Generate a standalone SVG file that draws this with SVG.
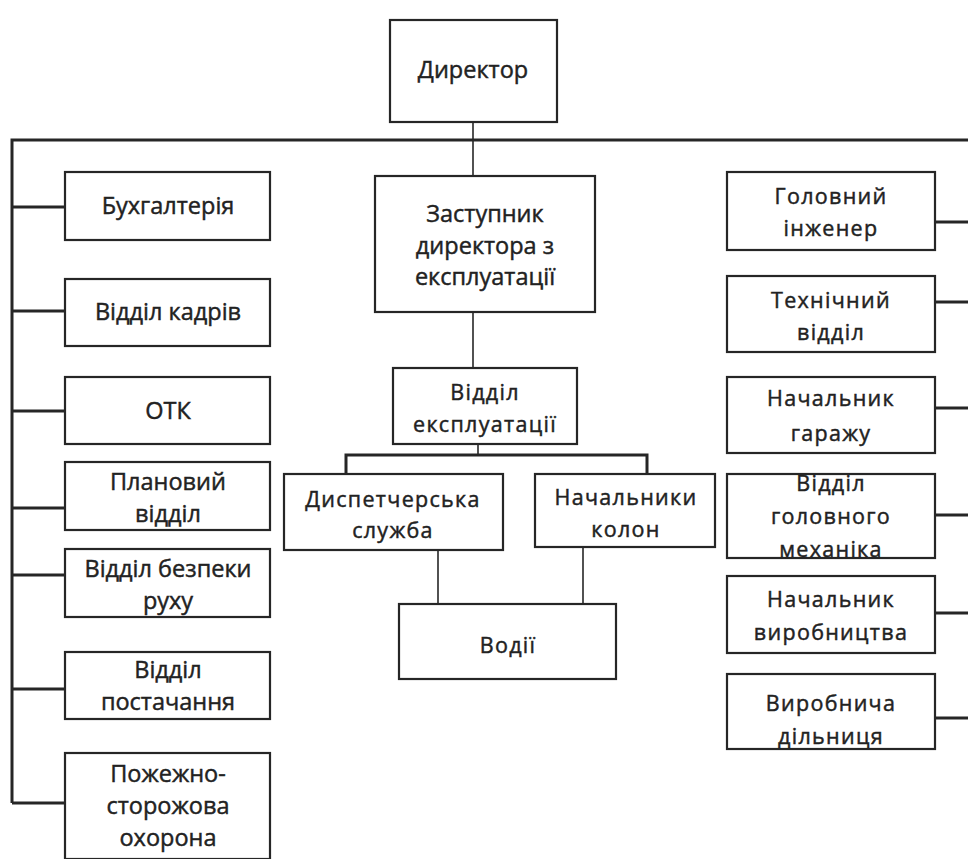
<svg xmlns="http://www.w3.org/2000/svg" width="968" height="859" viewBox="0 0 968 859">
  <style>
    .box { fill: #ffffff; stroke: #262626; stroke-width: 2.2; }
    .lbl { font-family: "Open Sans", "Noto Sans", sans-serif; font-size: 21.5px; fill: #222222; stroke: #222222; stroke-width: 0.45; text-anchor: middle; letter-spacing: 1.3px; }
    .lbln { font-family: "Open Sans", "Noto Sans", sans-serif; font-size: 23.5px; fill: #222222; stroke: #222222; stroke-width: 0.45; text-anchor: middle; }
    .bus { stroke: #262626; stroke-width: 3; fill: none; }
    .thin { stroke: #262626; stroke-width: 1.6; fill: none; }
  </style>
  <rect width="968" height="859" fill="#ffffff"/>

  <g id="connectors">
    <!-- main bus and left trunk -->
    <polyline class="bus" points="968,140 12,140 12,803"/>
    <!-- left branches -->
    <line class="bus" x1="12" y1="207" x2="65" y2="207"/>
    <line class="bus" x1="12" y1="311" x2="65" y2="311"/>
    <line class="bus" x1="12" y1="411" x2="65" y2="411"/>
    <line class="bus" x1="12" y1="508" x2="65" y2="508"/>
    <line class="bus" x1="12" y1="575" x2="65" y2="575"/>
    <line class="bus" x1="12" y1="689" x2="65" y2="689"/>
    <line class="bus" x1="12" y1="803" x2="65" y2="803"/>
    <!-- right branches -->
    <line class="bus" x1="935" y1="222" x2="968" y2="222"/>
    <line class="bus" x1="935" y1="302" x2="968" y2="302"/>
    <line class="bus" x1="935" y1="408" x2="968" y2="408"/>
    <line class="bus" x1="935" y1="515" x2="968" y2="515"/>
    <line class="bus" x1="935" y1="613" x2="968" y2="613"/>
    <line class="bus" x1="935" y1="718" x2="968" y2="718"/>
    <!-- centre chain -->
    <line class="thin" x1="473" y1="122" x2="473" y2="176"/>
    <line class="thin" x1="473" y1="312" x2="473" y2="368"/>
    <line class="thin" x1="478" y1="444" x2="478" y2="455"/>
    <polyline class="bus" points="346,474 346,455 647,455 647,474"/>
    <line class="thin" x1="438" y1="550" x2="438" y2="604"/>
    <line class="thin" x1="583" y1="547" x2="583" y2="604"/>
  </g>

  <g id="director">
    <rect class="box" x="390" y="20" width="167" height="102"/>
    <text class="lbln" x="473" y="78">Директор</text>
  </g>

  <g id="deputy">
    <rect class="box" x="375" y="176" width="220" height="136"/>
    <text class="lbln" x="485" y="222">Заступник</text>
    <text class="lbln" x="485" y="254">директора з</text>
    <text class="lbln" x="485" y="285">експлуатації</text>
  </g>

  <g id="operations">
    <rect class="box" x="393" y="368" width="184" height="76"/>
    <text class="lbl" x="485" y="400">Відділ</text>
    <text class="lbl" x="485" y="432">експлуатації</text>
  </g>

  <g id="dispatch">
    <rect class="box" x="284" y="474" width="219" height="76"/>
    <text class="lbl" x="393" y="507">Диспетчерська</text>
    <text class="lbl" x="393" y="538">служба</text>
  </g>

  <g id="column-heads">
    <rect class="box" x="535" y="474" width="180" height="73"/>
    <text class="lbl" x="626" y="505">Начальники</text>
    <text class="lbl" x="626" y="537">колон</text>
  </g>

  <g id="drivers">
    <rect class="box" x="399" y="604" width="217" height="75"/>
    <text class="lbl" x="508" y="653">Водії</text>
  </g>

  <!-- left column -->
  <g id="accounting">
    <rect class="box" x="65" y="172" width="205" height="68"/>
    <text class="lbln" x="168" y="214">Бухгалтерія</text>
  </g>
  <g id="hr">
    <rect class="box" x="65" y="279" width="205" height="67"/>
    <text class="lbln" x="168" y="320">Відділ кадрів</text>
  </g>
  <g id="otk">
    <rect class="box" x="65" y="377" width="205" height="67"/>
    <text class="lbln" x="168" y="419">ОТК</text>
  </g>
  <g id="planning">
    <rect class="box" x="65" y="462" width="205" height="68"/>
    <text class="lbln" x="168" y="490">Плановий</text>
    <text class="lbln" x="168" y="522">відділ</text>
  </g>
  <g id="traffic-safety">
    <rect class="box" x="65" y="549" width="205" height="68"/>
    <text class="lbln" x="168" y="577">Відділ безпеки</text>
    <text class="lbln" x="168" y="609">руху</text>
  </g>
  <g id="supply">
    <rect class="box" x="65" y="652" width="205" height="67"/>
    <text class="lbln" x="168" y="678">Відділ</text>
    <text class="lbln" x="168" y="710">постачання</text>
  </g>
  <g id="fire-guard">
    <rect class="box" x="65" y="753" width="205" height="106"/>
    <text class="lbln" x="168" y="782">Пожежно-</text>
    <text class="lbln" x="168" y="814">сторожова</text>
    <text class="lbln" x="168" y="846">охорона</text>
  </g>

  <!-- right column -->
  <g id="chief-engineer">
    <rect class="box" x="727" y="172" width="208" height="78"/>
    <text class="lbl" x="831" y="204">Головний</text>
    <text class="lbl" x="831" y="236">інженер</text>
  </g>
  <g id="technical">
    <rect class="box" x="727" y="276" width="208" height="76"/>
    <text class="lbl" x="831" y="308">Технічний</text>
    <text class="lbl" x="831" y="340">відділ</text>
  </g>
  <g id="garage-head">
    <rect class="box" x="727" y="377" width="208" height="76"/>
    <text class="lbl" x="831" y="406">Начальник</text>
    <text class="lbl" x="831" y="441">гаражу</text>
  </g>
  <g id="chief-mechanic">
    <rect class="box" x="727" y="474" width="208" height="84"/>
    <text class="lbl" x="831" y="491">Відділ</text>
    <text class="lbl" x="831" y="524">головного</text>
    <text class="lbl" x="831" y="557">механіка</text>
  </g>
  <g id="production-head">
    <rect class="box" x="727" y="576" width="208" height="77"/>
    <text class="lbl" x="831" y="607">Начальник</text>
    <text class="lbl" x="831" y="640">виробництва</text>
  </g>
  <g id="production-site">
    <rect class="box" x="727" y="674" width="208" height="75"/>
    <text class="lbl" x="831" y="711">Виробнича</text>
    <text class="lbl" x="831" y="744">дільниця</text>
  </g>
</svg>
